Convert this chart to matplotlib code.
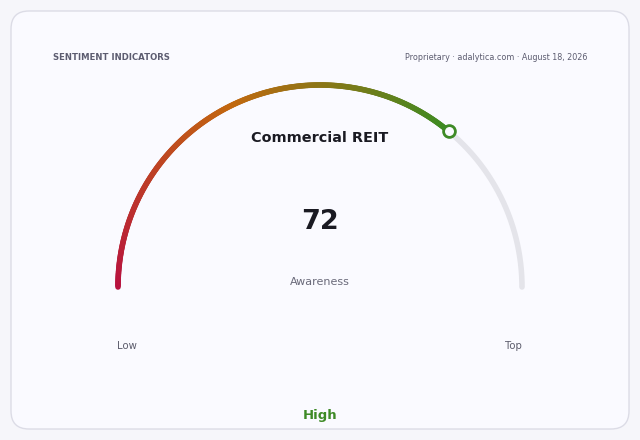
import numpy as np
import matplotlib
matplotlib.use("Agg")
import matplotlib.pyplot as plt
from matplotlib.collections import LineCollection
from matplotlib.colors import LinearSegmentedColormap
from matplotlib.patches import FancyBboxPatch

# gauge data
title = "Commercial REIT"
metric = "Awareness"
value = 72
scale_min, scale_max = 0, 100
end_labels = ["Low", "Top"]
status = "High"
header_left = "SENTIMENT INDICATORS"
header_right = "Proprietary · adalytica.com · August 18, 2026"

# colours
grad_colors = ["#b8113f", "#c2680f", "#3c8b22"]
track_color = "#e4e4ea"
status_color = "#3e8a26"

fig = plt.figure(figsize=(6.4, 4.4), dpi=100)
fig.patch.set_facecolor("#f6f6fa")
ax = fig.add_axes([0, 0, 1, 1])
ax.set_xlim(0, 640)
ax.set_ylim(440, 0)
ax.axis("off")

# card
card = FancyBboxPatch((11, 11), 618, 418, boxstyle="round,pad=0,rounding_size=18",
                      facecolor="#fafaff", edgecolor="#dcdce6", linewidth=1.0)
ax.add_patch(card)

ax.text(53, 58, header_left, fontsize=6.1, fontweight="bold", color="#5c5c70",
        ha="left", va="center")
ax.text(587, 58, header_right, fontsize=5.75, color="#5c5c70", ha="right", va="center")

# gauge geometry (pixel space)
cx, cy, r = 320, 287, 202
frac = (value - scale_min) / (scale_max - scale_min)

def arc_xy(f):
    ang = np.pi * (1 - f)
    return cx + r * np.cos(ang), cy - r * np.sin(ang)

# track
t = np.linspace(0, 1, 300)
tx, ty = arc_xy(t)
ax.plot(tx, ty, color=track_color, lw=4, solid_capstyle="round", zorder=2)

# value arc with gradient
cmap = LinearSegmentedColormap.from_list("g", grad_colors)
n = 300
f = np.linspace(0, frac, n + 1)
vx, vy = arc_xy(f)
pts = np.column_stack([vx, vy]).reshape(-1, 1, 2)
segs = np.concatenate([pts[:-1], pts[1:]], axis=1)
lc = LineCollection(segs, colors=cmap(np.linspace(0, 1, n)), linewidths=4,
                    capstyle="round", zorder=3)
ax.add_collection(lc)

mx, my = arc_xy(frac)
ax.plot(mx, my, "o", ms=8.5, mfc="#fafaff", mec=status_color, mew=2, zorder=4)

ax.text(cx, 138, title, fontsize=10.4, fontweight="bold", color="#1a1a22",
        ha="center", va="center")
ax.text(cx, 222, str(value), fontsize=19.5, fontweight="bold", color="#1a1a22",
        ha="center", va="center")
ax.text(cx, 282, metric, fontsize=8, color="#6a6a7a", ha="center", va="center")

ax.text(127, 346, end_labels[0], fontsize=7.3, color="#5c5c6c", ha="center", va="center")
ax.text(513, 346, end_labels[1], fontsize=7.3, color="#5c5c6c", ha="center", va="center")

ax.text(cx, 415, status, fontsize=9.5, fontweight="bold", color=status_color,
        ha="center", va="center")

fig.savefig("out.png", dpi=100, facecolor=fig.get_facecolor())
